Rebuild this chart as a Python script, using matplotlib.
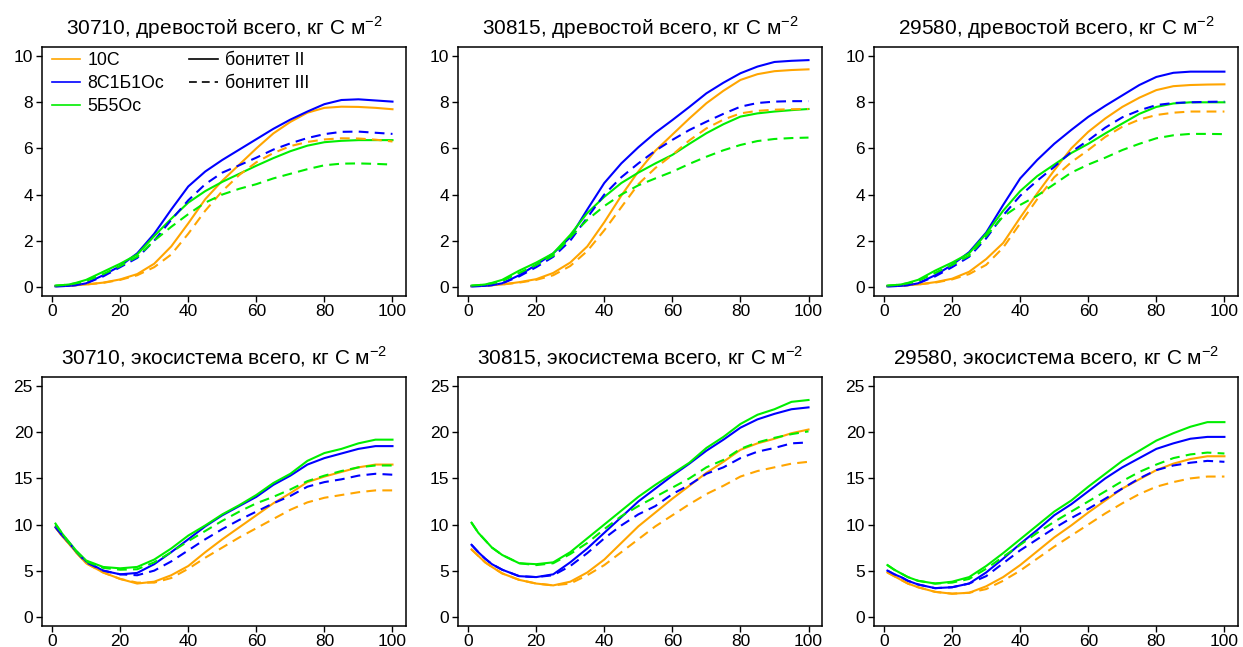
import matplotlib
matplotlib.use("Agg")
import matplotlib.pyplot as plt
from matplotlib.lines import Line2D

plt.rcParams['font.family'] = ['Liberation Sans', 'DejaVu Sans']

years = [1, 3, 5, 7, 10, 15, 20, 25, 30, 35, 40, 45, 50, 55, 60, 65, 70, 75, 80, 85, 90, 95, 100]

species = ["10С", "8С1Б1Ос", "5Б5Ос"]
bonitet = ["бонитет II", "бонитет III"]
colors = ["#FFA500", "#0000FF", "#00EE00"]

sites = ["30710", "30815", "29580"]
pools = ["древостой всего", "экосистема всего"]

# ---- древостой всего (stand total), kg C m-2 ----
# 30710
s30710_stand_10C_II = [0.03, 0.04, 0.05, 0.07, 0.1, 0.18, 0.32, 0.55, 1.0, 1.75, 2.75, 3.8, 4.6, 5.3, 6.0, 6.65, 7.15, 7.55, 7.76, 7.81, 7.8, 7.76, 7.7]
s30710_stand_8C_II = [0.02, 0.03, 0.04, 0.07, 0.15, 0.5, 0.9, 1.45, 2.3, 3.35, 4.35, 5.0, 5.5, 5.95, 6.4, 6.85, 7.25, 7.6, 7.92, 8.1, 8.13, 8.08, 8.03]
s30710_stand_5B_II = [0.05, 0.07, 0.1, 0.17, 0.3, 0.65, 1.0, 1.4, 2.2, 2.95, 3.65, 4.15, 4.55, 4.9, 5.25, 5.58, 5.88, 6.12, 6.27, 6.33, 6.36, 6.36, 6.36]
s30710_stand_10C_III = [0.03, 0.04, 0.05, 0.07, 0.1, 0.17, 0.3, 0.5, 0.85, 1.4, 2.3, 3.3, 4.15, 4.85, 5.4, 5.8, 6.1, 6.28, 6.39, 6.44, 6.43, 6.38, 6.3]
s30710_stand_8C_III = [0.02, 0.03, 0.04, 0.07, 0.15, 0.45, 0.85, 1.25, 2.0, 2.9, 3.75, 4.45, 4.95, 5.27, 5.6, 5.95, 6.22, 6.45, 6.62, 6.72, 6.73, 6.68, 6.63]
s30710_stand_5B_III = [0.05, 0.07, 0.1, 0.15, 0.25, 0.55, 0.9, 1.3, 2.0, 2.6, 3.15, 3.65, 4.0, 4.25, 4.45, 4.7, 4.9, 5.1, 5.27, 5.34, 5.35, 5.33, 5.3]
# 30815
s30815_stand_10C_II = [0.03, 0.04, 0.05, 0.07, 0.1, 0.2, 0.33, 0.6, 1.05, 1.75, 2.8, 3.95, 5.0, 5.9, 6.6, 7.3, 7.96, 8.5, 8.97, 9.22, 9.35, 9.4, 9.43]
s30815_stand_8C_II = [0.02, 0.03, 0.04, 0.07, 0.15, 0.5, 0.95, 1.45, 2.15, 3.35, 4.5, 5.35, 6.05, 6.68, 7.23, 7.8, 8.39, 8.85, 9.26, 9.55, 9.75, 9.8, 9.83]
s30815_stand_5B_II = [0.05, 0.07, 0.1, 0.17, 0.3, 0.7, 1.05, 1.45, 2.25, 3.2, 3.9, 4.5, 4.95, 5.35, 5.72, 6.2, 6.66, 7.05, 7.38, 7.52, 7.6, 7.66, 7.71]
s30815_stand_10C_III = [0.03, 0.04, 0.05, 0.07, 0.1, 0.18, 0.3, 0.5, 0.9, 1.55, 2.45, 3.45, 4.45, 5.15, 5.72, 6.35, 6.87, 7.25, 7.52, 7.63, 7.68, 7.7, 7.71]
s30815_stand_8C_III = [0.02, 0.03, 0.04, 0.07, 0.15, 0.45, 0.85, 1.3, 2.0, 3.0, 4.0, 4.75, 5.35, 5.9, 6.37, 6.8, 7.16, 7.5, 7.81, 7.97, 8.03, 8.05, 8.05]
s30815_stand_5B_III = [0.05, 0.07, 0.1, 0.15, 0.25, 0.6, 0.95, 1.35, 2.15, 2.9, 3.5, 4.0, 4.4, 4.7, 4.99, 5.33, 5.64, 5.92, 6.15, 6.32, 6.41, 6.45, 6.47]
# 29580
s29580_stand_10C_II = [0.03, 0.04, 0.05, 0.07, 0.1, 0.2, 0.35, 0.65, 1.2, 1.9, 3.0, 4.05, 5.05, 6.0, 6.72, 7.3, 7.8, 8.2, 8.53, 8.7, 8.75, 8.77, 8.78]
s29580_stand_8C_II = [0.02, 0.03, 0.04, 0.07, 0.15, 0.5, 0.95, 1.5, 2.35, 3.55, 4.7, 5.5, 6.2, 6.8, 7.37, 7.85, 8.3, 8.75, 9.1, 9.28, 9.33, 9.33, 9.33]
s29580_stand_5B_II = [0.05, 0.07, 0.1, 0.17, 0.3, 0.7, 1.05, 1.45, 2.3, 3.3, 4.15, 4.8, 5.3, 5.8, 6.2, 6.65, 7.08, 7.5, 7.8, 7.95, 8.0, 8.0, 8.0]
s29580_stand_10C_III = [0.03, 0.04, 0.05, 0.07, 0.1, 0.18, 0.32, 0.55, 0.95, 1.7, 2.75, 3.8, 4.75, 5.4, 5.93, 6.5, 6.94, 7.25, 7.45, 7.55, 7.6, 7.6, 7.6]
s29580_stand_8C_III = [0.02, 0.03, 0.04, 0.07, 0.15, 0.45, 0.85, 1.3, 2.1, 3.1, 3.95, 4.6, 5.2, 5.85, 6.35, 6.9, 7.35, 7.65, 7.88, 7.97, 8.0, 8.02, 8.03]
s29580_stand_5B_III = [0.05, 0.07, 0.1, 0.15, 0.25, 0.6, 0.95, 1.35, 2.2, 3.05, 3.55, 3.95, 4.45, 4.95, 5.3, 5.6, 5.93, 6.2, 6.44, 6.57, 6.63, 6.63, 6.62]

# ---- экосистема всего (ecosystem total), kg C m-2 ----
# 30710
s30710_eco_10C_II = [9.7, 8.7, 7.9, 7.0, 5.8, 4.8, 4.1, 3.6, 3.8, 4.5, 5.5, 7.0, 8.4, 9.7, 11.0, 12.3, 13.4, 14.6, 15.2, 15.7, 16.2, 16.5, 16.5]
s30710_eco_8C_II = [9.7, 8.8, 8.0, 7.1, 6.0, 5.0, 4.6, 4.75, 5.7, 7.0, 8.4, 9.8, 11.0, 12.0, 13.0, 14.3, 15.3, 16.5, 17.2, 17.7, 18.2, 18.5, 18.5]
s30710_eco_5B_II = [10.1, 9.0, 8.1, 7.2, 6.1, 5.4, 5.25, 5.4, 6.2, 7.4, 8.8, 9.9, 11.1, 12.1, 13.2, 14.5, 15.5, 16.9, 17.75, 18.2, 18.8, 19.2, 19.2]
s30710_eco_10C_III = [9.7, 8.7, 7.9, 7.0, 5.8, 4.8, 4.1, 3.7, 3.7, 4.2, 5.2, 6.4, 7.5, 8.6, 9.6, 10.6, 11.6, 12.4, 12.9, 13.2, 13.5, 13.7, 13.7]
s30710_eco_8C_III = [9.7, 8.8, 8.0, 7.1, 5.9, 5.0, 4.6, 4.5, 5.0, 6.0, 7.2, 8.4, 9.5, 10.5, 11.4, 12.3, 13.1, 14.1, 14.6, 14.9, 15.3, 15.5, 15.4]
s30710_eco_5B_III = [10.0, 9.0, 8.0, 7.1, 6.0, 5.3, 5.1, 5.15, 5.9, 7.0, 8.2, 9.3, 10.4, 11.4, 12.3, 13.0, 13.8, 14.7, 15.3, 15.8, 16.2, 16.4, 16.4]
# 30815
s30815_eco_10C_II = [7.3, 6.6, 5.9, 5.4, 4.7, 4.0, 3.6, 3.4, 3.8, 4.8, 6.2, 8.0, 9.8, 11.3, 12.8, 14.2, 15.6, 16.8, 18.1, 18.8, 19.3, 19.9, 20.3]
s30815_eco_8C_II = [7.8, 7.0, 6.3, 5.7, 5.1, 4.4, 4.3, 4.6, 5.9, 7.4, 9.1, 10.8, 12.5, 13.9, 15.3, 16.6, 18.0, 19.2, 20.5, 21.4, 22.0, 22.5, 22.7]
s30815_eco_5B_II = [10.2, 9.1, 8.3, 7.5, 6.7, 5.8, 5.7, 5.9, 7.0, 8.5, 10.0, 11.5, 13.0, 14.3, 15.5, 16.7, 18.3, 19.5, 20.9, 21.9, 22.5, 23.3, 23.5]
s30815_eco_10C_III = [7.3, 6.6, 5.9, 5.4, 4.7, 4.0, 3.6, 3.4, 3.6, 4.5, 5.6, 7.0, 8.4, 9.8, 11.0, 12.2, 13.3, 14.2, 15.2, 15.8, 16.2, 16.6, 16.8]
s30815_eco_8C_III = [7.8, 7.0, 6.3, 5.7, 5.1, 4.4, 4.3, 4.5, 5.5, 6.9, 8.5, 9.9, 11.1, 12.0, 13.3, 14.3, 15.5, 16.2, 17.2, 17.9, 18.3, 18.8, 18.9]
s30815_eco_5B_III = [10.2, 9.1, 8.3, 7.5, 6.7, 5.8, 5.6, 5.8, 6.8, 8.0, 9.5, 10.9, 12.0, 13.0, 14.0, 15.0, 16.2, 17.0, 18.2, 18.9, 19.4, 19.8, 20.1]
# 29580
s29580_eco_10C_II = [4.8, 4.4, 4.0, 3.6, 3.2, 2.7, 2.5, 2.6, 3.3, 4.3, 5.6, 7.1, 8.6, 9.9, 11.3, 12.6, 13.9, 14.9, 15.9, 16.6, 17.1, 17.4, 17.4]
s29580_eco_8C_II = [5.0, 4.6, 4.3, 3.9, 3.5, 3.1, 3.2, 3.6, 4.8, 6.3, 7.9, 9.4, 11.0, 12.2, 13.6, 15.0, 16.2, 17.2, 18.2, 18.8, 19.3, 19.5, 19.5]
s29580_eco_5B_II = [5.6, 5.1, 4.7, 4.3, 3.9, 3.6, 3.8, 4.3, 5.5, 6.9, 8.4, 9.9, 11.4, 12.6, 14.1, 15.5, 16.9, 18.0, 19.1, 19.9, 20.6, 21.1, 21.1]
s29580_eco_10C_III = [4.8, 4.4, 4.0, 3.6, 3.2, 2.7, 2.5, 2.6, 3.0, 3.9, 5.0, 6.3, 7.6, 8.8, 10.0, 11.2, 12.3, 13.3, 14.1, 14.6, 15.0, 15.2, 15.2]
s29580_eco_8C_III = [5.0, 4.6, 4.3, 3.9, 3.5, 3.1, 3.2, 3.6, 4.4, 5.8, 7.2, 8.4, 9.6, 10.7, 11.7, 12.8, 13.9, 15.0, 15.9, 16.4, 16.7, 16.9, 16.8]
s29580_eco_5B_III = [5.6, 5.1, 4.7, 4.3, 3.9, 3.6, 3.7, 4.1, 5.2, 6.5, 7.8, 9.1, 10.3, 11.4, 12.5, 13.6, 14.7, 15.7, 16.5, 17.2, 17.6, 17.8, 17.7]

data = {
    ("30710", 0): [[s30710_stand_10C_II, s30710_stand_8C_II, s30710_stand_5B_II],
                   [s30710_stand_10C_III, s30710_stand_8C_III, s30710_stand_5B_III]],
    ("30815", 0): [[s30815_stand_10C_II, s30815_stand_8C_II, s30815_stand_5B_II],
                   [s30815_stand_10C_III, s30815_stand_8C_III, s30815_stand_5B_III]],
    ("29580", 0): [[s29580_stand_10C_II, s29580_stand_8C_II, s29580_stand_5B_II],
                   [s29580_stand_10C_III, s29580_stand_8C_III, s29580_stand_5B_III]],
    ("30710", 1): [[s30710_eco_10C_II, s30710_eco_8C_II, s30710_eco_5B_II],
                   [s30710_eco_10C_III, s30710_eco_8C_III, s30710_eco_5B_III]],
    ("30815", 1): [[s30815_eco_10C_II, s30815_eco_8C_II, s30815_eco_5B_II],
                   [s30815_eco_10C_III, s30815_eco_8C_III, s30815_eco_5B_III]],
    ("29580", 1): [[s29580_eco_10C_II, s29580_eco_8C_II, s29580_eco_5B_II],
                   [s29580_eco_10C_III, s29580_eco_8C_III, s29580_eco_5B_III]],
}

ylims = [(0, 10), (0, 25)]
yticks = [[0, 2, 4, 6, 8, 10], [0, 5, 10, 15, 20, 25]]
xticks = [0, 20, 40, 60, 80, 100]

fig = plt.figure(figsize=(12.43, 6.47), dpi=100)
lefts = [0.0338, 0.3685, 0.7031]
width = 0.2928
bottoms = [0.5425, 0.0325]
height = 0.3849

dash = (0, (4.7, 3.0))

for r, pool in enumerate(pools):
    for c, site in enumerate(sites):
        ax = fig.add_axes([lefts[c], bottoms[r], width, height])
        series = data[(site, r)]
        for b in range(2):
            for k in range(3):
                ax.plot(years, series[b][k], color=colors[k], lw=1.5,
                        linestyle='-' if b == 0 else dash)
        lo, hi = ylims[r]
        pad = 0.04 * (hi - lo)
        ax.set_ylim(lo - pad, hi + pad)
        xpad = 0.04 * (100 - 1)
        ax.set_xlim(1 - xpad, 100 + xpad)
        ax.set_yticks(yticks[r])
        ax.set_xticks(xticks)
        ax.tick_params(direction='out', length=4.5, width=1, labelsize=12.5,
                       colors='black')
        ax.tick_params(axis='x', pad=1.2)
        ax.tick_params(axis='y', pad=2)
        for sp in ax.spines.values():
            sp.set_linewidth(1.1)
        ax.set_title(f"{site}, {pool}, кг C м$^{{\\mathregular{{−2}}}}$",
                     fontsize=15, pad=9)
        if r == 0 and c == 0:
            handles = [Line2D([], [], color=colors[0], lw=1.2),
                       Line2D([], [], color=colors[1], lw=1.2),
                       Line2D([], [], color=colors[2], lw=1.2),
                       Line2D([], [], color='black', lw=1.2, linestyle='-'),
                       Line2D([], [], color='black', lw=1.2, linestyle=dash)]
            labels = species + bonitet
            ax.legend(handles, labels, loc='upper left', ncol=2, frameon=False,
                      bbox_to_anchor=(0.0275, 0.978),
                      fontsize=12.8, handlelength=1.6, handletextpad=0.4,
                      labelspacing=0.33, columnspacing=1.4,
                      borderaxespad=0.0, borderpad=0.0)

fig.savefig("out.png", dpi=100)
